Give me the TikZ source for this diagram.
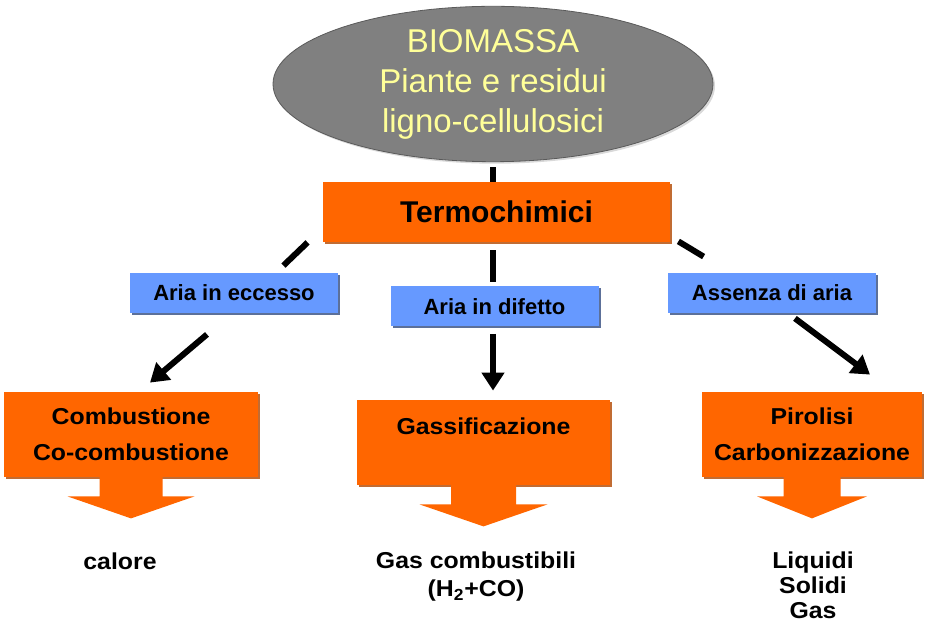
\documentclass[tikz,border=0pt]{standalone}
\usepackage{fontspec}
\setmainfont{Liberation Sans}
\newfontfamily\widefont[FakeStretch=1.08]{Liberation Sans}
\usetikzlibrary{calc,shapes.geometric,shadows,arrows.meta}

\definecolor{orangebox}{RGB}{255,102,0}
\definecolor{bluebox}{RGB}{102,153,255}
\definecolor{greybio}{RGB}{128,128,128}
\definecolor{yellowtxt}{RGB}{255,255,153}

\tikzset{
  process/.style={fill=orangebox, inner sep=0pt, align=center,
    font=\widefont\bfseries\fontsize{11.5}{18}\selectfont,
    drop shadow={shadow xshift=1pt, shadow yshift=-1pt, fill=orangebox!70!black, opacity=0.8}},
  condition/.style={fill=bluebox, inner sep=0pt, minimum width=104pt, minimum height=20pt,
    font=\bfseries\fontsize{11}{13}\selectfont,
    drop shadow={shadow xshift=1pt, shadow yshift=-1pt, fill=bluebox!50!black, opacity=0.8}},
  product/.style={align=center, font=\widefont\bfseries\fontsize{11.5}{12.5}\selectfont},
  link/.style={line width=3pt},
  flow/.style={line width=3pt, -{Triangle[length=9pt,width=11pt]}}
}

\newcommand{\outarrow}[3]{%
  \fill[orangebox] ($(#1.south)+(-#2,-1)$) -- ($(#1.south)+(-#2,19)$) -- ($(#1.south)+(-#3,19)$)
    -- ($(#1.south)+(0,41)$) -- ($(#1.south)+(#3,19)$) -- ($(#1.south)+(#2,19)$)
    -- ($(#1.south)+(#2,-1)$) -- cycle;}

\begin{document}
\begin{tikzpicture}[x=0.5pt, y=-0.5pt]
    \useasboundingbox (0,0) rectangle (928,625);

    \node (bio) at (493,84) [ellipse, fill=greybio, draw=greybio!70!black, inner sep=0pt,
        minimum width=220pt, minimum height=69pt, align=center, text=yellowtxt,
        font=\fontsize{16.5}{20}\selectfont,
        drop shadow={shadow xshift=1pt, shadow yshift=-1pt, opacity=0.3}]
        {BIOMASSA\\Piante e residui\\ligno-cellulosici};

    \node (termo) at (496.5,212) [process, minimum width=173.5pt, minimum height=30pt,
        font=\bfseries\fontsize{15}{18}\selectfont] {Termochimici};

    \node (ecc) at (234,293) [condition] {Aria in eccesso};
    \node (dif) at (494.5,306.5) [condition] {Aria in difetto};
    \node (ass) at (772,293) [condition] {Assenza di aria};

    \node (comb) at (131,434.5) [process, minimum width=127pt, minimum height=42.5pt]
        {Combustione\\Co-combustione};
    \node (gas) at (483.5,442.5) [process, minimum width=126.5pt, text height=17.5pt, text depth=25pt]
        {Gassificazione};
    \node (pir) at (812,434.5) [process, minimum width=110pt, minimum height=42.5pt]
        {Pirolisi\\Carbonizzazione};

    \outarrow{comb}{31.5}{63.5}
    \outarrow{gas}{32.5}{64}
    \outarrow{pir}{28.5}{55}

    \node (calore) at (120,561) [product] {calore};
    \node (gascomb) at (476,577) [product, font=\widefont\bfseries\fontsize{11.5}{14}\selectfont]
        {Gas combustibili\\(H\textsubscript{2}+CO)};
    \node (prodotti) at (813,585) [product] {Liquidi\\Solidi\\Gas};

    \draw[link, shorten <=2.5pt] (bio.south) -- (bio.south |- termo.north);
    \draw[link, shorten <=4pt, shorten >=2pt] (bio.south |- termo.south) -- (bio.south |- dif.north);
    \draw[link] ($(termo.south west)+(-15,0)$) -- ($(ecc.north east)+(-55,-7)$);
    \draw[link] ($(termo.south east)+(8,-1)$) -- ($(ass.north west)+(36,-16)$);

    \draw[flow] ($(ecc.south)+(-27,21)$) -- ($(comb.north)+(19,-9)$);
    \draw[flow] ($(dif.south)+(-1.5,7)$) -- ($(gas.north)+(9.5,-9)$);
    \draw[flow] ($(ass.south)+(23,5)$) -- ($(pir.north)+(58,-17)$);
\end{tikzpicture}
\end{document}
